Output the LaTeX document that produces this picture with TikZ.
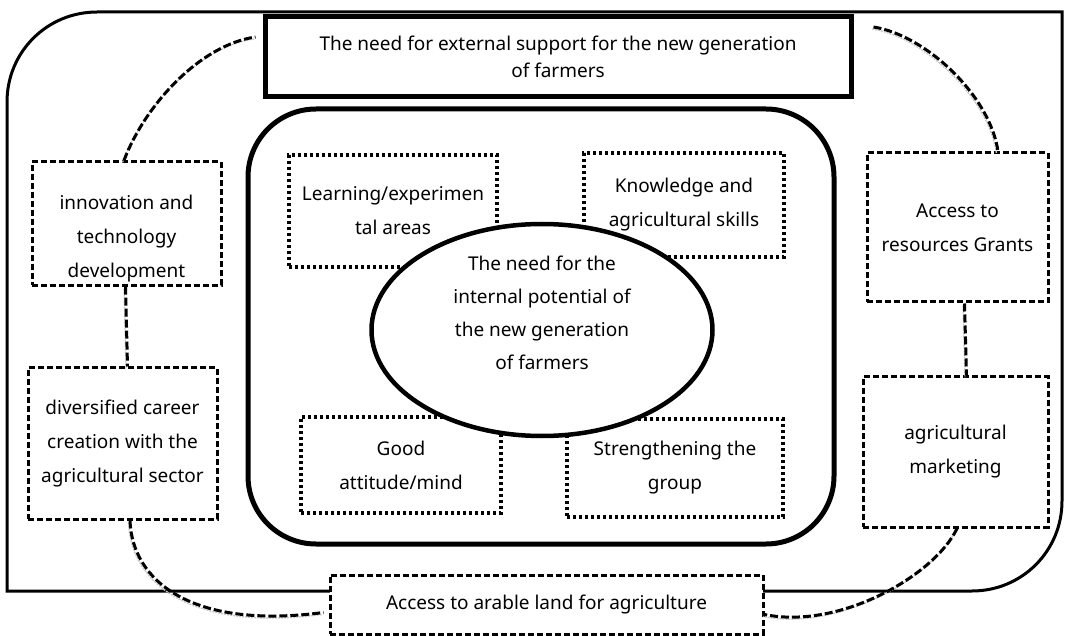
\documentclass[tikz,border=0pt]{standalone}
\usepackage{fontspec}
\setmainfont{Noto Sans}
\usetikzlibrary{shapes,positioning}
\tikzset{fontscale/.style = {font=\fontsize{19}{34}\selectfont}}
\tikzstyle{dashbox}=[rectangle, draw, line width=3pt, dash pattern=on 6pt off 3pt, fill=white, align=center, fontscale]
\tikzstyle{dotbox}=[rectangle, draw, line width=3.5pt, dash pattern=on 3pt off 3pt, align=center, fontscale]
\tikzstyle{headbox}=[rectangle, draw, line width=5pt, fill=white, align=center, font=\fontsize{19}{27}\selectfont]
\tikzstyle{core}=[ellipse, draw, line width=4.5pt, fill=white]

\begin{document}
\begin{tikzpicture}[x=1pt, y=-1pt, frame/.style={line width=3pt}, link/.style={line width=3pt, dash pattern=on 8pt off 3pt, preaction={draw=gray!45, line width=1.3pt, dash pattern=on 2pt off 1pt, transform canvas={shift={(-1.5pt,-2pt)}}}}]
\useasboundingbox (0,0) rectangle (1066,636);

% outer frame
\draw[frame] (7,591) -- (7,102) .. controls (7,52) and (47,12) .. (97,12) -- (1062,12) -- (1062,501) .. controls (1062,551) and (1022,591) .. (972,591) -- cycle;

\node[headbox, minimum width=586pt, minimum height=80pt] (need_ext) at (558,57) {The need for external support for the new generation\\of farmers};

% internal part
\node[rectangle, draw, line width=5pt, rounded corners=68pt, minimum width=586pt, minimum height=435pt] (inner) at (541,326.5) {};

\node[dotbox, minimum width=208pt, minimum height=112pt] (learn) at (393,211) {Learning/experimen\\tal areas};
\node[dotbox, minimum width=200pt, minimum height=104pt] (know) at (684,205) {Knowledge and\\agricultural skills};
\node[dotbox, minimum width=200pt, minimum height=96pt] (good) at (401,465) {Good\\attitude/mind};
\node[dotbox, minimum width=216pt, minimum height=98pt] (group) at (675,468) {Strengthening the\\group};

\node[core, minimum width=341pt, minimum height=212pt] (need_int) at (542,330) {};
\node[align=center, font=\fontsize{19}{33}\selectfont] (need_txt) at (542,313) {The need for the\\internal potential of\\the new generation\\of farmers};

% external factors
\node[dashbox, minimum width=189pt, minimum height=119pt] (innov) at (126.5,223.5) {\rule{0pt}{44pt}innovation and\\technology\\development};
\node[dashbox, minimum width=189pt, minimum height=151pt] (career) at (122.5,443.5) {diversified career\\creation with the\\agricultural sector};
\node[dashbox, minimum width=181pt, minimum height=149pt] (grants) at (957.5,227.5) {Access to\\resources Grants};
\node[dashbox, minimum width=185pt, minimum height=150pt] (market) at (955.5,452) {agricultural\\marketing};
\node[dashbox, minimum width=433pt, minimum height=59pt] (land) at (546.5,604.5) {Access to arable land for agriculture};

% links
\draw[link] ([xshift=-2.5pt]innov.north) .. controls (145,105) and (200,45) .. ([xshift=-7pt,yshift=20pt]need_ext.west);
\draw[link] ([xshift=20pt,yshift=30pt]need_ext.east) .. controls (925,35) and (990,95) .. ([xshift=40.5pt]grants.north);
\draw[link] ([xshift=7.5pt]career.south) .. controls (132,580) and (190,630) .. ([xshift=-5pt,yshift=-8pt]land.west);
\draw[link] ([xshift=1.5pt]market.south) .. controls (935,575) and (840,630) .. ([yshift=-10pt]land.east);
\draw[link] ([xshift=-1pt]innov.south) -- ([xshift=5pt]career.north);
\draw[link] ([xshift=7pt]grants.south) -- ([xshift=11pt]market.north);
\end{tikzpicture}
\end{document}
